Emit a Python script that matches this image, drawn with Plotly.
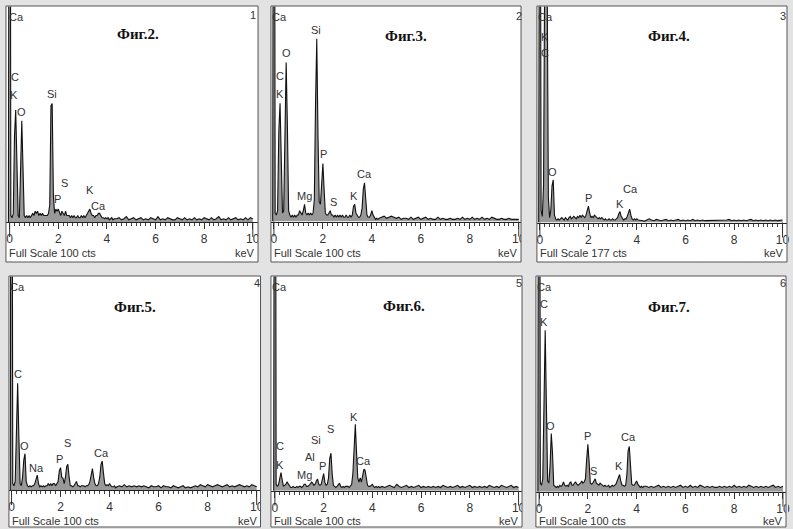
import plotly.graph_objects as go

W, H = 793, 529

# ---------------- data ----------------
energy_kev = [
    -0.05, 0.00, 0.05, 0.10, 0.15, 0.20, 0.25, 0.30, 0.35, 0.40,
    0.45, 0.50, 0.55, 0.60, 0.65, 0.70, 0.75, 0.80, 0.85, 0.90,
    0.95, 1.00, 1.05, 1.10, 1.15, 1.20, 1.25, 1.30, 1.35, 1.40,
    1.45, 1.50, 1.55, 1.60, 1.65, 1.70, 1.75, 1.80, 1.85, 1.90,
    1.95, 2.00, 2.05, 2.10, 2.15, 2.20, 2.25, 2.30, 2.35, 2.40,
    2.45, 2.50, 2.55, 2.60, 2.65, 2.70, 2.75, 2.80, 2.85, 2.90,
    2.95, 3.00, 3.05, 3.10, 3.15, 3.20, 3.25, 3.30, 3.35, 3.40,
    3.45, 3.50, 3.55, 3.60, 3.65, 3.70, 3.75, 3.80, 3.85, 3.90,
    3.95, 4.00, 4.05, 4.10, 4.15, 4.20, 4.25, 4.30,
    4.4, 4.5, 4.6, 4.7, 4.8, 4.9, 5.0, 5.1, 5.2, 5.3,
    5.4, 5.5, 5.6, 5.7, 5.8, 5.9, 6.0, 6.1, 6.2, 6.3,
    6.4, 6.5, 6.6, 6.7, 6.8, 6.9, 7.0, 7.1, 7.2, 7.3,
    7.4, 7.5, 7.6, 7.7, 7.8, 7.9, 8.0, 8.1, 8.2, 8.3,
    8.4, 8.5, 8.6, 8.7, 8.8, 8.9, 9.0, 9.1, 9.2, 9.3,
    9.4, 9.5, 9.6, 9.7, 9.8, 9.9, 10.0,
]

fig2_counts = [
    0, 400, 3, 2, 4, 40, 52, 20, 3, 2,
    20, 47, 25, 3, 2, 3, 2, 3, 2, 3,
    4, 3, 5, 4, 5, 3, 4, 3, 4, 3,
    3, 3, 3, 4, 8, 54, 55, 12, 4, 6,
    5, 6, 4, 3, 5, 4, 3, 5, 3, 3,
    3, 2, 3, 2, 3, 2, 2, 3, 2, 2,
    3, 2, 3, 2, 3, 4, 5, 6, 4, 3,
    3, 2, 3, 3, 4, 4, 3, 2, 2, 1.5,
    2, 1.5, 2, 1, 1.5, 2, 1, 1.5,
    1.5, 2, 1, 1.5, 2.5, 1, 1.5, 2, 1, 1.5,
    2, 1, 1.5, 1, 2, 1.5, 1, 2.5, 1, 1.5,
    1, 2, 1.5, 1, 1, 2, 1.5, 1, 2, 1,
    1.5, 1, 2, 1, 1.5, 1, 2, 1.5, 1, 2,
    1, 1.5, 2.5, 1, 1.5, 1, 2, 1, 1.5, 2,
    1, 1.5, 1, 2, 1, 2, 1.5,
]

fig3_counts = [
    0, 400, 4, 3, 5, 42, 55, 22, 4, 5,
    35, 74, 45, 5, 3, 2, 3, 2, 3, 2,
    3, 3, 5, 4, 3, 5, 8, 4, 3, 4,
    3, 4, 3, 4, 10, 55, 85, 40, 9, 8,
    18, 27, 15, 4, 3, 3, 4, 5, 3, 3,
    2, 3, 2, 3, 2, 3, 2, 3, 2, 2,
    3, 2, 2, 3, 2, 3, 7, 8, 4, 3,
    2, 2, 3, 6, 15, 18, 10, 3, 2, 2,
    3, 5, 3, 2, 1, 1.5, 1, 1.5,
    2, 2.5, 1.5, 2, 2.5, 2, 1.5, 2, 1, 1.5,
    1.5, 1, 2, 1, 1.5, 2, 1, 1.5, 2, 1,
    1.5, 1, 1, 2, 1, 1.5, 1, 1, 1.5, 1,
    1, 1.5, 1, 2, 1, 1.5, 1, 2, 1, 1.5,
    1, 2, 1, 1.5, 1, 2, 1.5, 1, 1, 1.5,
    1, 1, 1.5, 1, 1, 1, 1,
]

fig4_counts = [
    0, 500, 10, 5, 30, 250, 400, 200, 20, 4,
    10, 30, 35, 6, 3, 2, 3, 2, 3, 4,
    3, 2, 4, 3, 2, 4, 5, 3, 4, 5,
    4, 3, 5, 4, 6, 4, 6, 5, 4, 6,
    10, 13.5, 8, 4, 5, 4, 6, 5, 4, 3,
    4, 3, 4, 3, 2, 3, 2, 2, 3, 2,
    2, 3, 2, 2, 3, 4, 7, 9, 5, 3,
    2, 3, 3, 5, 9, 11, 6, 3, 2, 3,
    2, 3, 2, 2, 1.5, 2, 1.5, 1,
    2, 3, 2, 1.5, 2.5, 2, 1.5, 2, 2.5, 1.5,
    2, 1.5, 2, 2.5, 1.5, 2, 1.5, 2, 1.5, 2.5,
    1.5, 2, 1.5, 2, 1.5, 1.5, 2, 1.5, 2, 1.5,
    2, 1.5, 1.5, 2, 2.5, 1.5, 2, 1.5, 2, 1.5,
    2, 1.5, 2, 2.5, 1.5, 2, 1.5, 2, 1.5, 2,
    1.5, 2, 1.5, 2, 1.5, 1.5, 2,
]

fig5_counts = [
    0, 400, 3, 2, 4, 33, 50, 25, 3, 2,
    6, 14, 17, 4, 2, 1.5, 2, 1.5, 2, 2,
    3, 5, 7, 3, 1.5, 2, 1.5, 2, 1.5, 2,
    2, 3, 2, 3, 2, 3, 3, 2, 3, 4,
    9, 10.5, 6, 5.5, 3, 6, 11, 12, 6, 2,
    2, 1.5, 2, 3, 4, 2, 2, 1.5, 2, 2,
    2, 1.5, 2, 2, 2.5, 4, 8, 10, 6, 3,
    2, 2, 3, 6, 12, 13.5, 8, 3, 2, 2.5,
    2, 3, 2, 1.5, 1.5, 2, 1, 1.5,
    2, 1.5, 2.5, 1.5, 2, 1.5, 2, 1.5, 2, 1.5,
    2, 1.5, 1, 2, 1.5, 1.5, 2, 1, 2, 1.5,
    1.5, 1, 2, 1.5, 1, 1.5, 2, 1, 1.5, 1,
    1.5, 2, 1.5, 2.5, 2, 1.5, 2.5, 2, 1.5, 2,
    2.5, 2, 1.5, 2, 2.5, 1.5, 2, 1.5, 2, 2.5,
    2, 1.5, 2, 1.5, 2.5, 2, 1.5,
]

fig6_counts = [
    0, 400, 3, 2, 3, 6, 8.5, 5, 2, 2.5,
    3, 4, 3, 2, 1.5, 1.5, 2, 1.5, 1.5, 2,
    1.5, 2, 2, 1.5, 2, 3, 3, 2, 2, 2.5,
    3, 4, 3.5, 2.5, 3, 4.5, 5.5, 3, 2.5, 3,
    6, 8, 4, 2.5, 3, 6, 15, 17.5, 8, 2.5,
    2, 1.5, 2, 3, 3.5, 2, 1.5, 2, 1.5, 2,
    2, 2, 1.5, 2.5, 3, 8, 22, 31, 18, 6,
    4, 6, 4, 7, 10, 9.5, 5, 2.5, 2, 2,
    2.5, 3, 2, 1.5, 2, 1.5, 2, 1.5,
    2, 1.5, 2, 2.5, 2, 1.5, 3, 2, 1.5, 2,
    2.5, 1.5, 2, 1.5, 2, 2.5, 1.5, 2, 1.5, 2,
    1.5, 2, 1.5, 2, 1.5, 2.5, 2, 1.5, 2, 1.5,
    2, 2.5, 1.5, 2, 1.5, 2, 2.5, 1.5, 2, 1.5,
    2, 1.5, 2, 1.5, 2.5, 2, 1.5, 2, 1.5, 2.5,
    2, 1.5, 2, 2.5, 1.5, 2, 1.5,
]

fig7_counts = [
    0, 400, 4, 3, 6, 52, 75, 40, 5, 4,
    12, 27, 18, 3, 2.5, 2, 2.5, 2, 3, 2.5,
    3, 4.5, 3, 2.5, 3, 2.5, 4, 4.5, 3, 3,
    4, 4.5, 3.5, 3, 3.5, 4, 5, 4, 4.5, 6,
    15, 22, 14, 4, 3.5, 4, 5, 6, 4, 3.5,
    3, 4, 3.5, 3, 2.5, 3, 2.5, 2.5, 3, 2,
    2.5, 3, 2.5, 3, 3.5, 5, 7, 8, 5, 3,
    3, 2.5, 3, 8, 19, 21, 12, 3.5, 3, 3,
    4, 5, 3.5, 2.5, 2, 2.5, 2, 2.5,
    2.5, 2, 2.5, 2, 2.5, 3, 2, 2.5, 2, 2.5,
    2, 2.5, 2, 2.5, 3, 2, 2.5, 2, 3, 2,
    2.5, 2, 3, 2.5, 2, 2.5, 2, 2.5, 2, 2,
    2.5, 2, 2.5, 2, 2.5, 2, 3, 2, 2.5, 2,
    2.5, 2, 3, 2.5, 2, 2.5, 2, 2.5, 2, 2.5,
    2, 2.5, 3, 2, 2.5, 2, 2.5,
]

panel_counts = [fig2_counts, fig3_counts, fig4_counts, fig5_counts, fig6_counts, fig7_counts]
full_scale_cts = [100, 100, 177, 100, 100, 100]
panel_titles = ["Фиг.2.", "Фиг.3.", "Фиг.4.", "Фиг.5.", "Фиг.6.", "Фиг.7."]
panel_numbers = ["1", "2", "3", "4", "5", "6"]
tick_values = [0, 2, 4, 6, 8, 10]

# element labels: (text, keV, counts)
fig2_labels = [("Ca", 0.30, 95.0), ("C", 0.22, 67.3), ("K", 0.19, 58.9), ("O", 0.50, 51.0),
               ("Si", 1.73, 59.4), ("S", 2.26, 18.1), ("P", 1.98, 10.7), ("K", 3.29, 14.8),
               ("Ca", 3.66, 7.4)]
fig3_labels = [("Ca", 0.23, 95.0), ("Si", 1.73, 89.0), ("O", 0.51, 78.2), ("C", 0.23, 67.6),
               ("K", 0.23, 59.1), ("P", 2.03, 31.2), ("Ca", 3.72, 21.9), ("Mg", 1.24, 11.7),
               ("K", 3.28, 11.7), ("S", 2.43, 9.3)]
fig4_labels = [("Ca", 0.23, 168.2), ("K", 0.20, 152.2), ("C", 0.23, 138.6), ("O", 0.54, 41.6),
               ("P", 2.02, 19.8), ("Ca", 3.72, 27.2), ("K", 3.31, 15.2)]
fig5_labels = [("Ca", 0.25, 95.2), ("C", 0.27, 54.3), ("O", 0.54, 20.7), ("S", 2.27, 21.9),
               ("Ca", 3.69, 17.2), ("P", 1.97, 14.5), ("Na", 1.03, 10.3)]
fig6_labels = [("Ca", 0.19, 95.2), ("K", 3.26, 34.5), ("S", 2.27, 28.8), ("Si", 1.70, 23.7),
               ("C", 0.19, 20.7), ("Al", 1.45, 15.9), ("K", 0.19, 12.0), ("P", 1.97, 11.7),
               ("Ca", 3.65, 13.7), ("Mg", 1.22, 7.3)]
fig7_labels = [("Ca", 0.24, 95.3), ("C", 0.20, 87.2), ("K", 0.20, 78.7), ("O", 0.48, 30.7),
               ("P", 1.97, 26.0), ("Ca", 3.65, 25.3), ("S", 2.24, 9.8), ("K", 3.26, 12.1)]
panel_labels = [fig2_labels, fig3_labels, fig4_labels, fig5_labels, fig6_labels, fig7_labels]

for c in panel_counts:
    assert len(c) == len(energy_kev), len(c)

# ---------------- layout geometry (pixels) ----------------
geom = [
    dict(L=5, R=259, T=6, B=262, x0=8.7, k=24.5, base=222.0, top=6.5, tx=138, ty=34, nx=253.5, ny=15, fy=253),
    dict(L=272, R=524, T=6, B=262, x0=275.0, k=24.67, base=221.5, top=6.5, tx=408, ty=36, nx=521.5, ny=16, fy=253),
    dict(L=540, R=792, T=6, B=262, x0=543.0, k=24.45, base=222.5, top=6.5, tx=673, ty=36, nx=788, ny=16, fy=253),
    dict(L=8, R=261.5, T=276, B=527, x0=10.6, k=24.7, base=490.0, top=276.5, tx=135, ty=307, nx=258.3, ny=283.3, fy=521),
    dict(L=272, R=525, T=276, B=527, x0=276.0, k=24.55, base=490.7, top=276.5, tx=405.7, ty=306, nx=522.3, ny=283.3, fy=521),
    dict(L=539, R=791, T=276, B=527, x0=542.2, k=24.57, base=491.7, top=276.5, tx=673, ty=307, nx=788, ny=283.3, fy=521),
]

def px(x):
    return x / W

def py(y):
    return 1 - y / H

fig = go.Figure()
layout = dict(
    width=W, height=H, margin=dict(l=0, r=0, t=0, b=0),
    paper_bgcolor="#e3e3e3", plot_bgcolor="rgba(0,0,0,0)",
    showlegend=False, font=dict(family="Liberation Sans, Arial", color="#333"),
)
shapes = []
annotations = []

for i, g in enumerate(geom):
    n = i + 1
    xa = "x" if n == 1 else f"x{n}"
    ya = "y" if n == 1 else f"y{n}"
    fig.add_trace(go.Scatter(
        x=energy_kev, y=panel_counts[i], mode="lines",
        line=dict(color="#111", width=1.1), fill="tozeroy", fillcolor="#999999",
        xaxis=xa, yaxis=ya, hoverinfo="skip"))
    lo = (g["L"] + 0.5 - g["x0"]) / g["k"]
    hi = (g["R"] - 0.5 - g["x0"]) / g["k"]
    layout["xaxis" if n == 1 else f"xaxis{n}"] = dict(
        domain=[px(g["L"] + 0.5), px(g["R"] - 0.5)], range=[lo, hi], anchor=ya,
        showline=True, linecolor="#222", linewidth=1, showgrid=False, zeroline=False,
        ticks="outside", ticklen=6, tickwidth=1, tickcolor="#333",
        tickmode="array", tickvals=tick_values, ticktext=[str(v) for v in tick_values],
        tickfont=dict(family="Liberation Sans, Arial", size=12, color="#333"),
        minor=dict(ticks="outside", ticklen=3, tickwidth=1, tickcolor="#444", dtick=0.2, tick0=0, showgrid=False),
        fixedrange=True)
    layout["yaxis" if n == 1 else f"yaxis{n}"] = dict(
        domain=[py(g["base"]), py(g["top"])], range=[0, full_scale_cts[i]], anchor=xa,
        visible=False, fixedrange=True)
    # white panel background
    shapes.append(dict(type="rect", xref="paper", yref="paper", layer="below",
                       x0=px(g["L"]), x1=px(g["R"]), y0=py(g["B"]), y1=py(g["T"]),
                       fillcolor="white", line=dict(width=0)))
    # long end markers of the energy scale at 0 and 10 keV
    for ev in (tick_values[0], tick_values[-1]):
        shapes.append(dict(type="line", xref=xa, yref="paper", layer="above",
                           x0=ev, x1=ev, y0=py(g["base"] + 15), y1=py(g["base"]),
                           line=dict(color="#333", width=1)))
    # element labels
    for (t, kev, cts) in panel_labels[i]:
        annotations.append(dict(text=t, x=kev, y=cts, xref=xa, yref=ya, showarrow=False,
                                xanchor="center", yanchor="middle",
                                font=dict(family="Liberation Sans, Arial", size=11, color="#333")))
    annotations.append(dict(text="<b>" + panel_titles[i] + "</b>", x=px(g["tx"]), y=py(g["ty"]),
                            xref="paper", yref="paper", showarrow=False, xanchor="center", yanchor="middle",
                            font=dict(family="Liberation Serif, Times New Roman", size=15, color="#111")))
    annotations.append(dict(text=panel_numbers[i], x=px(g["nx"]), y=py(g["ny"]),
                            xref="paper", yref="paper", showarrow=False, xanchor="center", yanchor="middle",
                            font=dict(family="Liberation Sans, Arial", size=11, color="#333")))
    annotations.append(dict(text=f"Full Scale {full_scale_cts[i]} cts", x=px(g["L"] + 1), y=py(g["fy"]),
                            xref="paper", yref="paper", showarrow=False, xanchor="left", yanchor="middle",
                            font=dict(family="Liberation Sans, Arial", size=11, color="#333")))
    annotations.append(dict(text="keV", x=px(g["R"] - 1), y=py(g["fy"]),
                            xref="paper", yref="paper", showarrow=False, xanchor="right", yanchor="middle",
                            font=dict(family="Liberation Sans, Arial", size=11, color="#333")))

# gray gaps covering overflow of tick labels outside the panel boxes
for row in (geom[0:3], geom[3:6]):
    edges = [0] + [v for g in row for v in (g["L"], g["R"])] + [W]
    top = min(g["T"] for g in row)
    bot = max(g["B"] for g in row)
    for j in range(0, len(edges), 2):
        shapes.append(dict(type="rect", xref="paper", yref="paper", layer="above",
                           x0=px(edges[j]), x1=px(edges[j + 1]), y0=py(bot), y1=py(top),
                           fillcolor="#e3e3e3", line=dict(width=0)))
# panel borders
for g in geom:
    shapes.append(dict(type="rect", xref="paper", yref="paper", layer="above",
                       x0=px(g["L"]), x1=px(g["R"]), y0=py(g["B"]), y1=py(g["T"]),
                       fillcolor="rgba(0,0,0,0)", line=dict(color="#555", width=1)))

layout["shapes"] = shapes
layout["annotations"] = annotations
fig.update_layout(**layout)
fig.write_html("out.html", config={"displayModeBar": False, "staticPlot": True},
               post_script="document.body.style.margin='0';document.body.style.overflow='hidden';")
